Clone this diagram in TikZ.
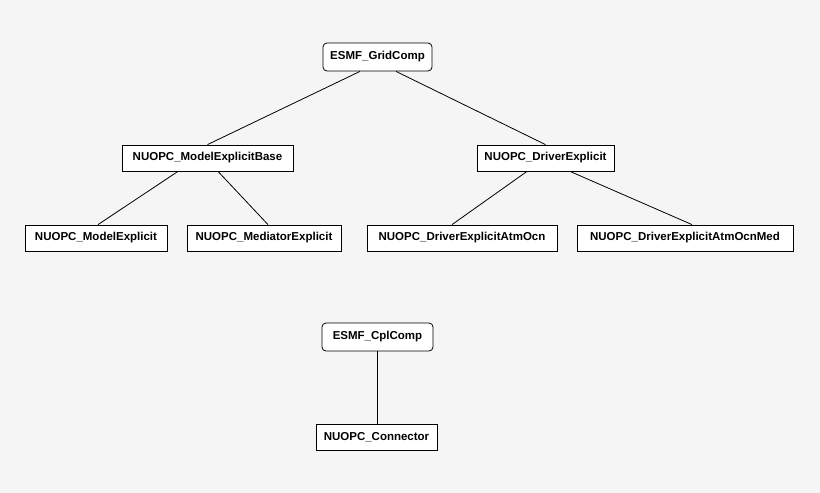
\documentclass[tikz,border=0pt]{standalone}
\usepackage{fontspec}
\setmainfont{Liberation Sans}
\begin{document}
\begin{tikzpicture}[x=1pt,y=-1pt,
  box/.style={draw,line width=0.8pt,fill=white,inner sep=0pt,minimum height=26pt,font=\fontsize{11.5}{13}\selectfont\bfseries},
  rbox/.style={box,rounded corners=4pt,minimum height=28pt},
  line/.style={draw,line width=0.8pt}]
\fill[fill={rgb,255:red,245;green,245;blue,245}] (0,0) rectangle (820,493);
\useasboundingbox (0,0) rectangle (820,493);
\node[rbox,minimum width=109pt] (gc) at (377.5,57) {ESMF\_GridComp};
\node[box,minimum width=171pt] (meb) at (207.5,158) {NUOPC\_ModelExplicitBase};
\node[box,minimum width=137pt] (de) at (545.5,158) {NUOPC\_DriverExplicit};
\node[box,minimum width=142pt] (me) at (96,238) {NUOPC\_ModelExplicit};
\node[box,minimum width=154pt] (mde) at (264,238) {NUOPC\_MediatorExplicit};
\node[box,minimum width=190pt] (dao) at (462,238) {NUOPC\_DriverExplicitAtmOcn};
\node[box,minimum width=216pt] (daom) at (685,238) {NUOPC\_DriverExplicitAtmOcnMed};
\node[rbox,minimum width=111pt] (cc) at (377.5,337) {ESMF\_CplComp};
\node[box,minimum width=121pt] (con) at (376.5,437) {NUOPC\_Connector};
\draw[line] ([xshift=-17.5pt]gc.south) -- (meb.north);
\draw[line] ([xshift=18.5pt]gc.south) -- (de.north);
\draw[line] ([xshift=-29.5pt]meb.south) -- ([xshift=2pt]me.north);
\draw[line] ([xshift=10.5pt]meb.south) -- ([xshift=4pt]mde.north);
\draw[line] ([xshift=-18.5pt]de.south) -- ([xshift=-10pt]dao.north);
\draw[line] ([xshift=24.5pt]de.south) -- ([xshift=7pt]daom.north);
\draw[line] (cc.south) -- (cc.south |- con.north);
\end{tikzpicture}
\end{document}
